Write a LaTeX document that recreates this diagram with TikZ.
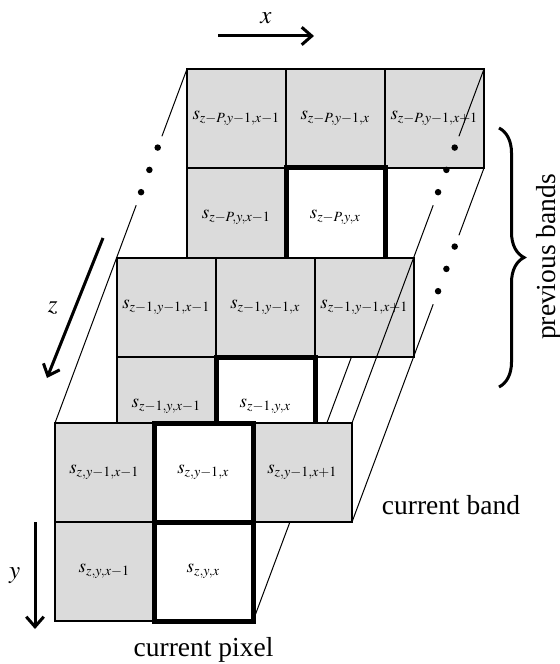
\documentclass[tikz,border=0pt]{standalone}
\usepackage{mathptmx}
\usepackage{fontspec}
\setmainfont{Liberation Serif}
\usetikzlibrary{positioning,calc,arrows.meta,decorations.pathreplacing}

\tikzset{
  cell/.style={draw, line width=0.5pt, fill=black!14, minimum width=39.6pt,
    minimum height=39.6pt, inner sep=0pt, outer sep=0pt, font=\fontsize{7.6}{9}\selectfont},
  wcell/.style={cell, fill=white},
  pixframe/.style={line width=2pt},
  depth/.style={line width=0.4pt},
  axis/.style={line width=1.2pt, -{Straight Barb[length=4pt,width=7pt]}},
  lbl/.style={font=\fontsize{11}{13}\selectfont},
}

\begin{document}
\begin{tikzpicture}[x=0.4pt, y=-0.4pt, node distance=0pt]
\useasboundingbox (0,0) rectangle (559,664);

% Band z-P

\node[cell, anchor=north west] (t11) at (187,69) {$s_{z-P,y-1,x-1}$};
\node[cell, right=of t11] (t12) {$s_{z-P,y-1,x}$};
\node[cell, right=of t12] (t13) {$s_{z-P,y-1,x+1}$};
\node[cell, below=of t11] (t21) {$s_{z-P,y,x-1}$};
\node[wcell, below=of t12] (t22) {$s_{z-P,y,x}$};
\draw[pixframe] (t22.south west) rectangle (t22.north east);

% Band z-1

\node[cell, anchor=north west] (m11) at (117,258) {$s_{z-1,y-1,x-1}$};
\node[cell, right=of m11] (m12) {$s_{z-1,y-1,x}$};
\node[cell, right=of m12] (m13) {$s_{z-1,y-1,x+1}$};
\node[cell, below=of m11] (m21) {$s_{z-1,y,x-1}$};
\node[wcell, below=of m12] (m22) {$s_{z-1,y,x}$};
\draw[pixframe] (m22.south west) rectangle (m22.north east);

% Band z

\node[cell, anchor=north west] (b11) at (55,423) {$s_{z,y-1,x-1}$};
\node[wcell, right=of b11] (b12) {$s_{z,y-1,x}$};
\node[cell, right=of b12] (b13) {$s_{z,y-1,x+1}$};
\node[cell, below=of b11] (b21) {$s_{z,y,x-1}$};
\node[wcell, below=of b12] (b22) {$s_{z,y,x}$};
\draw[pixframe] (b12.north west) rectangle (b22.south east);
\draw[pixframe] (b12.south west) -- (b12.south east);

% Depth edges

\foreach \a/\b in {t11.north west/b11.north west, t13.north east/b13.north east, t13.south east/b13.south east} {
  \draw[depth] (\a) -- ($(\a)!0.19!(\b)$);
  \draw[depth] ($(\a)!0.385!(\b)$) -- ($(\a)!0.534!(\b)$);
  \foreach \t in {0.222,0.285,0.348}
    \fill ($(\a)!\t!(\b)$) circle (1.3pt);
}
\draw[depth] ($(t13.north east)!0.534!(b13.north east)$) -- (b13.north east);
\draw[depth] ($(t13.south east)!0.534!(b13.south east)$) -- (b13.south east);
\draw[depth] ($(t11.north west)!0.534!(b11.north west)$) -- (b11.north west);
\draw[depth] ($(t22.south east)!0.254!(b22.south east)$) -- ($(t22.south east)!0.441!(b22.south east)$);
\draw[depth] ($(t22.south east)!0.72!(b22.south east)$) -- (b22.south east);

% Axes

\coordinate (x0) at (218,36);
\coordinate (x1) at (314,36);
\coordinate (z0) at (103,238);
\coordinate (z1) at (47,378);
\coordinate (y0) at (35,522);
\coordinate (y1) at (35,629);
\draw[axis] (x0) -- (x1) node[midway, above=1pt] (xlab) {$x$};
\draw[axis] (z0) -- (z1) node[midway, left=3pt] (zlab) {$z$};
\draw[axis] (y0) -- (y1) node[midway, left=2pt] (ylab) {$y$};

% Labels

\coordinate (bt) at (499,128);
\coordinate (bb) at (499,387);
\draw[line width=1.2pt, decorate, decoration={brace, amplitude=10pt}] (bt) -- (bb);
\node[lbl, rotate=90] (prev) at (549,257) {previous bands};
\node[lbl] (band) at (451,505) {current band};
\node[lbl, below=3pt of b22] (pixel) {current pixel};

\end{tikzpicture}
\end{document}
